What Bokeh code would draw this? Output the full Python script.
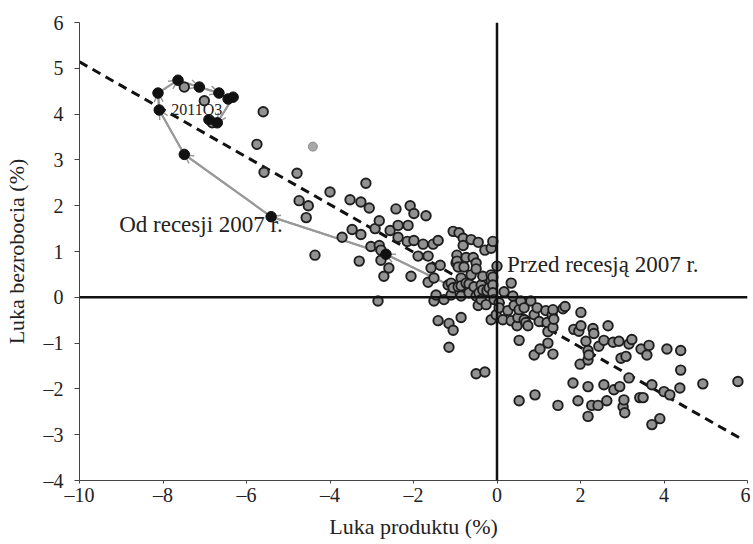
from bokeh.plotting import figure
from bokeh.models import Span, Arrow, OpenHead, Label, Range1d
from bokeh.embed import file_html
from bokeh.resources import INLINE

# ---- data ----
gap_x = [-7.49, -7.01, -6.82, -5.60, -5.75, -5.58, -4.79, -4.74, -4.52, -4.57,
         -4.36, -4.00, -3.71, -3.52, -3.47, -3.30, -3.26, -3.26, -3.14, -3.06,
         -3.02, -2.92, -2.85, -2.82, -2.82, -2.78, -2.78, -2.71, -2.59, -2.56,
         -2.42, -2.37, -2.37, -2.15, -2.13, -2.08, -2.06, -1.99, -1.99, -1.89,
         -1.77, -1.70, -1.65, -1.65, -1.58, -1.53, -1.51, -1.51, -1.46, -1.41,
         -1.41, -1.36, -1.27, -1.17, -1.15, -1.15, -1.10, -1.10, -1.05, -1.05,
         -1.05, -0.98, -0.96, -0.96, -0.93, -0.93, -0.91, -0.86, -0.86, -0.86,
         -0.86, -0.81, -0.81, -0.79, -0.74, -0.74, -0.67, -0.67, -0.62, -0.62,
         -0.57, -0.55, -0.50, -0.50, -0.50, -0.50, -0.45, -0.45, -0.43, -0.38,
         -0.38, -0.34, -0.34, -0.29, -0.29, -0.26, -0.24, -0.19, -0.14, -0.14,
         -0.14, -0.14, -0.10, -0.10, -0.10, -0.10, -0.07, -0.02, 0.00, 0.05,
         0.05, 0.14, 0.17, 0.26, 0.34, 0.34, 0.38, 0.41, 0.48, 0.50,
         0.53, 0.53, 0.53, 0.57, 0.65, 0.65, 0.69, 0.74, 0.81, 0.89,
         0.89, 0.91, 0.96, 1.01, 1.03, 1.17, 1.20, 1.22, 1.22, 1.32,
         1.34, 1.34, 1.34, 1.36, 1.46, 1.58, 1.63, 1.82, 1.84, 1.94,
         1.96, 1.99, 2.01, 2.01, 2.13, 2.18, 2.18, 2.18, 2.18, 2.20,
         2.27, 2.30, 2.32, 2.42, 2.44, 2.56, 2.56, 2.63, 2.66, 2.78,
         2.80, 2.92, 2.94, 2.97, 3.02, 3.04, 3.06, 3.09, 3.16, 3.16,
         3.23, 3.42, 3.50, 3.45, 3.59, 3.64, 3.71, 3.71, 3.90, 4.00,
         4.07, 4.14, 4.38, 4.40, 4.40, 4.93, 5.77]
unemp_gap = [4.59, 4.29, 3.81, 4.05, 3.34, 2.73, 2.71, 2.11, 2.00, 1.74,
             0.92, 2.30, 1.31, 2.13, 1.48, 0.79, 2.08, 1.37, 2.49, 1.95,
             1.11, 1.50, -0.08, 1.67, 1.13, 1.03, 0.81, 0.46, 0.64, 1.46,
             1.93, 1.57, 1.31, 1.22, 1.57, 2.00, 0.46, 1.83, 1.24, 0.90,
             1.16, 1.78, 0.90, 0.33, 0.64, 1.16, 0.42, -0.08, 0.05, 1.24,
             -0.51, 0.70, -0.05, 0.27, -0.57, -1.09, 0.05, 0.31, 1.44, 0.21,
             -0.72, 0.75, 0.92, 0.79, 0.66, 0.23, 1.41, 0.42, 0.25, 0.03,
             -0.44, 1.29, 1.13, 0.66, 0.87, 0.31, 0.29, 0.10, 1.26, 0.49,
             0.87, 0.23, 0.75, 0.62, 0.03, -1.67, 1.20, -0.18, 0.10, 0.27,
             -0.05, 0.46, 0.16, 1.03, -1.63, -0.16, 0.14, 0.21, 1.07, 0.49,
             0.36, -0.49, 1.22, 0.44, 0.27, 0.10, -0.05, -0.38, 0.68, -0.12,
             -0.23, -0.49, 0.12, -0.29, 0.31, -0.51, 0.03, -0.18, -0.62, -0.44,
             -0.27, -0.94, -2.26, -0.08, -0.49, -0.23, -0.55, -0.62, -0.08, -0.38,
             -1.26, -2.13, -0.23, -0.53, -1.13, -0.29, -0.55, -0.75, -1.00, -0.38,
             -0.27, -0.66, -1.24, -0.48, -2.36, -0.25, -0.20, -1.87, -0.70, -2.26,
             -0.74, -1.46, -0.33, -0.62, -0.96, -1.16, -1.37, -1.95, -2.60, -1.26,
             -2.36, -0.68, -0.79, -2.36, -1.07, -0.94, -1.91, -2.26, -0.62, -0.98,
             -2.02, -0.96, -1.95, -1.33, -2.39, -2.24, -2.52, -1.29, -1.02, -1.76,
             -0.92, -2.19, -2.19, -1.13, -1.26, -1.05, -1.91, -2.78, -2.65, -2.06,
             -1.13, -2.13, -1.98, -1.16, -1.59, -1.89, -1.84]

light_x = [-4.41]
light_y = [3.29]

# since the 2007 recession (chronological)
rec_x = [-1.22, -2.66, -5.41, -7.49, -8.09, -8.12, -7.64, -7.13, -6.66, -6.44, -6.32, -6.70, -6.90]
rec_y = [0.30, 0.94, 1.76, 3.12, 4.09, 4.46, 4.74, 4.59, 4.46, 4.33, 4.37, 3.81, 3.88]
arrow_segments = [0, 1, 2, 3, 4, 5, 6, 7, 10]

fit_x = [-10.0, 5.83]
fit_y = [5.14, -3.08]

x_ticks = [-10, -8, -6, -4, -2, 0, 2, 4, 6]
y_ticks = [-4, -3, -2, -1, 0, 1, 2, 3, 4, 5, 6]

FONT = "Liberation Serif"

p = figure(width=750, height=541, x_range=Range1d(-10, 6), y_range=Range1d(-4, 6),
           output_backend="svg", toolbar_location=None,
           min_border_left=78, min_border_right=3, min_border_top=22, min_border_bottom=56)
p.xgrid.visible = False
p.ygrid.visible = False
p.outline_line_color = None

for ax, ticks in ((p.xaxis, x_ticks), (p.yaxis, y_ticks)):
    ax.ticker = ticks
    ax.major_label_overrides = {t: (("\u2013" + str(-t)) if t < 0 else str(t)) for t in ticks}
    ax.minor_tick_line_color = None
    ax.major_tick_in = 0
    ax.axis_line_color = "#444444"
    ax.major_tick_line_color = "#444444"
    ax.major_label_text_font = FONT
    ax.major_label_text_font_size = "20px"
    ax.major_label_text_color = "#222222"
    ax.axis_label_text_font = FONT
    ax.axis_label_text_font_size = "22px"
    ax.axis_label_text_font_style = "normal"
    ax.axis_label_text_color = "#222222"

p.xaxis.axis_label = "Luka produktu (%)"
p.yaxis.axis_label = "Luka bezrobocia (%)"
p.xaxis.major_tick_out = 3
p.yaxis.major_tick_out = 5
p.xaxis.major_label_standoff = 0
p.xaxis.axis_label_standoff = 5
p.yaxis.major_label_standoff = 11
p.yaxis.axis_label_standoff = 12

# regression line (dashed)
p.line(fit_x, fit_y, line_color="#111111", line_width=3, line_dash="9 6")

# path since recession
p.line(rec_x, rec_y, line_color="#999999", line_width=2)
for i in arrow_segments:
    p.add_layout(Arrow(x_start=rec_x[i], y_start=rec_y[i], x_end=rec_x[i + 1], y_end=rec_y[i + 1],
                       line_color="#999999", line_width=2, level="underlay",
                       end=OpenHead(size=9, line_color="#999999", line_width=1.5)))

# scatter points
p.scatter(gap_x, unemp_gap, size=9.5, fill_color="#929292", line_color="#1e1e1e", line_width=1.9)
p.scatter(light_x, light_y, size=9, fill_color="#a8a8a8", line_color="#8a8a8a", line_width=1)
p.scatter(rec_x[1:], rec_y[1:], size=10.5, fill_color="#111111", line_color="#111111", line_width=1)

# zero lines
p.add_layout(Span(location=0, dimension="height", line_color="#111111", line_width=2.5))
p.add_layout(Span(location=0, dimension="width", line_color="#111111", line_width=2.5))

# labels
p.add_layout(Label(x=-9.05, y=1.59, text="Od recesji 2007 r.", text_font=FONT, text_font_size="23px",
                   text_color="#222222", text_baseline="middle", text_align="left"))
p.add_layout(Label(x=0.24, y=0.72, text="Przed recesją 2007 r.", text_font=FONT, text_font_size="23px",
                   text_color="#222222", text_baseline="middle", text_align="left"))
p.add_layout(Label(x=-7.80, y=4.11, text="2011Q3", text_font=FONT, text_font_size="16px",
                   text_color="#222222", text_baseline="middle", text_align="left"))

open("out.html", "w").write(file_html(p, INLINE))
